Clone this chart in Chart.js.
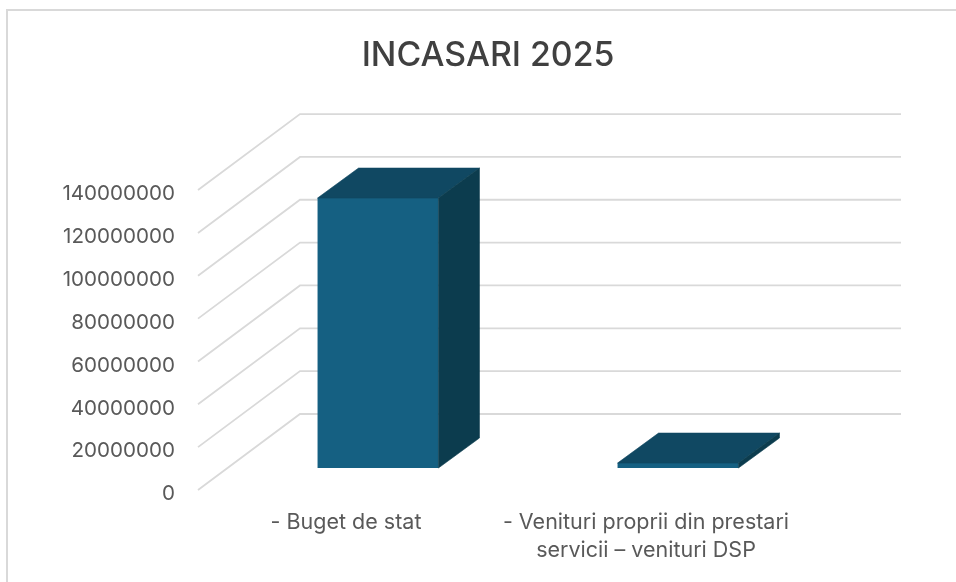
<!DOCTYPE html>
<html>
<head>
<meta charset="utf-8">
<script src="https://cdn.jsdelivr.net/npm/chart.js@4"></script>
<style>
  html, body { margin: 0; padding: 0; background: #fff; }
  #wrap { width: 956px; height: 582px; }
</style>
</head>
<body>
<div id="wrap"><canvas id="chart"></canvas></div>
<script>
// data
const categories = ['- Buget de stat', ['- Venituri proprii din prestari', 'servicii – venituri DSP']];
const incasari = [126000000, 2300000];
const yMax = 140000000;
const yStep = 20000000;

// fake 3D: floor depth in px
const LABEL_DROP = 4;                 // tick labels sit a bit below the line ends
const FLOOR = { dx: 102, dy: -76 };   // front edge -> back wall
const BAR_OFF = { dx: 30, dy: -22 - LABEL_DROP };  // scale -> bar front face
const BAR_DEPTH = { dx: 41, dy: -30 };
const TEXT = '#595959';
const GRID = '#d9d9d9';
const FRONT = '#156082', TOP = '#104862', SIDE = '#0c3c4e';

function poly(ctx, pts, color) {
  ctx.fillStyle = color;
  ctx.strokeStyle = color;
  ctx.lineWidth = 0.6;
  ctx.beginPath();
  pts.forEach((p, i) => i ? ctx.lineTo(p[0], p[1]) : ctx.moveTo(p[0], p[1]));
  ctx.closePath();
  ctx.fill();
  ctx.stroke();
}

const fake3d = {
  id: 'fake3d',
  beforeDatasetsDraw(chart) {
    const { ctx, scales: { x, y } } = chart;
    const right = x.right + FLOOR.dx + 1;
    // outer frame, only top and left show in the source
    ctx.save();
    ctx.strokeStyle = GRID;
    ctx.lineWidth = 2;
    ctx.beginPath();
    ctx.moveTo(956, 10); ctx.lineTo(7, 10); ctx.lineTo(7, 582);
    ctx.stroke();
    // gridlines: diagonal on the side wall, then flat on the back wall
    ctx.lineWidth = 1.8;
    y.ticks.forEach(t => {
      const py = y.getPixelForValue(t.value) - LABEL_DROP;
      ctx.beginPath();
      ctx.moveTo(x.left, py);
      ctx.lineTo(x.left + FLOOR.dx, py + FLOOR.dy);
      ctx.lineTo(right, py + FLOOR.dy);
      ctx.stroke();
    });
    ctx.restore();
  },
  beforeDatasetDraw(chart) {
    chart.ctx.save();
    chart.ctx.translate(BAR_OFF.dx, BAR_OFF.dy);
  },
  afterDatasetDraw(chart) {
    const ctx = chart.ctx;
    const d = BAR_DEPTH;
    chart.getDatasetMeta(0).data.forEach(b => {
      const l = b.x - b.width / 2, r = b.x + b.width / 2;
      poly(ctx, [[l, b.y], [l + d.dx, b.y + d.dy], [r + d.dx, b.y + d.dy], [r, b.y]], TOP);
      poly(ctx, [[r, b.y], [r + d.dx, b.y + d.dy], [r + d.dx, b.base + d.dy], [r, b.base]], SIDE);
    });
    ctx.restore();
  }
};

Chart.defaults.font.family = 'Inter, "Open Sans", sans-serif';

new Chart(document.getElementById('chart'), {
  type: 'bar',
  data: {
    labels: categories,
    datasets: [{
      label: 'INCASARI 2025',
      data: incasari,
      backgroundColor: FRONT,
      borderWidth: 0,
      barPercentage: 1,
      categoryPercentage: 0.403,
      clip: false
    }]
  },
  plugins: [fake3d],
  options: {
    responsive: true,
    maintainAspectRatio: false,
    animation: false,
    layout: { padding: { left: 20, right: 0, top: 0, bottom: 0 } },
    plugins: {
      legend: { display: false },
      tooltip: { enabled: false },
      title: {
        display: true,
        text: 'INCASARI 2025',
        color: '#404040',
        font: { size: 33.8, weight: 500, lineHeight: 1.2 },
        padding: { top: 35.5, bottom: 118 }
      }
    },
    scales: {
      x: {
        grid: { display: false },
        border: { display: false },
        afterFit(s) { s.height = 88; },
        ticks: {
          color: TEXT,
          padding: 7,
          labelOffset: -2,
          maxRotation: 0,
          autoSkip: false,
          font: { size: 21.5, lineHeight: 1.3 }
        }
      },
      y: {
        min: 0,
        max: yMax,
        grid: { display: false },
        border: { display: false },
        afterFit(s) { s.width = 178; },
        ticks: {
          stepSize: yStep,
          color: TEXT,
          padding: 15,
          font: { size: 20.6 },
          callback: v => String(v)
        }
      },
      // empty axis, keeps the plot short of the right edge while the title stays centred
      spacer: {
        position: 'right',
        grid: { display: false },
        border: { display: false },
        ticks: { display: false },
        afterFit(s) { s.width = 158; }
      }
    }
  }
});
</script>
</body>
</html>
